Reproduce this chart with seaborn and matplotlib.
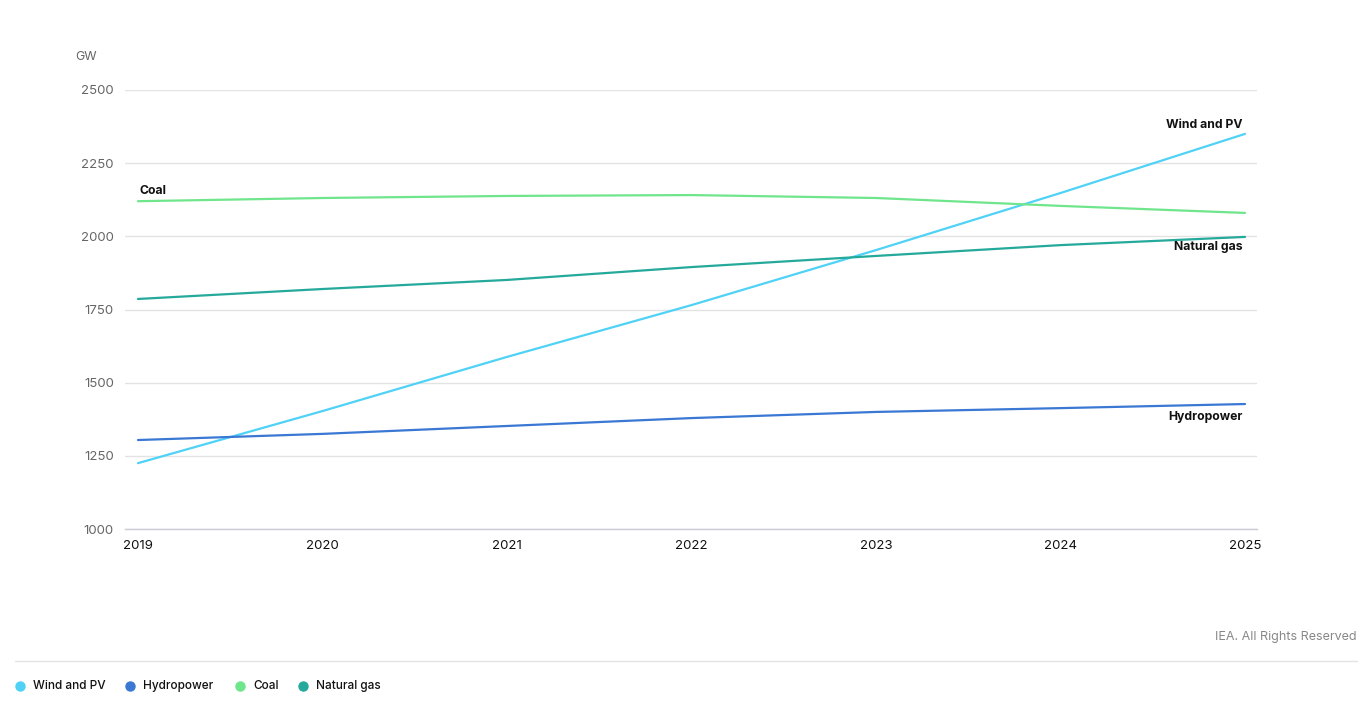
import numpy as np
import pandas as pd
import matplotlib
matplotlib.use("Agg")
import matplotlib.pyplot as plt
import seaborn as sns

years = [2019, 2020, 2021, 2022, 2023, 2024, 2025]
wind_pv = [1225, 1403, 1588, 1765, 1953, 2148, 2350]
hydropower = [1304, 1325, 1352, 1379, 1400, 1413, 1427]
coal = [2120, 2131, 2138, 2141, 2131, 2104, 2080]
natural_gas = [1786, 1820, 1851, 1895, 1933, 1970, 1998]

series_names = ["Wind and PV", "Hydropower", "Coal", "Natural gas"]
colors = ["#4fd2f6", "#3a78d4", "#6fe58c", "#25a99b"]
y_ticks = [1000, 1250, 1500, 1750, 2000, 2250, 2500]

df = pd.DataFrame({
    "year": years * 4,
    "value": wind_pv + hydropower + coal + natural_gas,
    "series": sum([[n] * len(years) for n in series_names], []),
})

sns.set_theme(style="white")
plt.rcParams["font.family"] = ["Inter", "DejaVu Sans"]

fig = plt.figure(figsize=(13.69, 7.08), dpi=100)
ax = fig.add_axes([125 / 1369, 1 - 529 / 708, (1257 - 125) / 1369, (529 - 90) / 708])

sns.lineplot(data=df, x="year", y="value", hue="series", palette=dict(zip(series_names, colors)),
             linewidth=1.6, ax=ax, legend=False)

ax.set_xlim(2019 - 13 / 184.5, 2025 + 12 / 184.5)
ax.set_ylim(1000, 2500)
ax.set_yticks(y_ticks)
ax.set_yticklabels([str(t) for t in y_ticks], color="#666666", fontsize=9.5)
ax.set_xticks(years)
ax.set_xticklabels([str(y) for y in years], color="#111111", fontsize=9.5)
ax.tick_params(axis="x", length=7, width=1, color="#111111", pad=1, direction="out")
ax.tick_params(axis="y", length=0, pad=8)
ax.grid(axis="y", color="#e3e3e3", linewidth=1)
ax.set_axisbelow(True)
for s in ["top", "right", "left"]:
    ax.spines[s].set_visible(False)
ax.spines["bottom"].set_color("#c9cbd6")
ax.spines["bottom"].set_linewidth(1)
ax.set_xlabel("")
ax.set_ylabel("")

# Unit label
fig.text(75 / 1369, 1 - 57 / 708, "GW", color="#666666", fontsize=9, va="center", ha="left")

# Series labels
lab_kw = dict(fontsize=8.8, fontweight="bold", color="#111111")
ax.annotate("Coal", xy=(years[0], coal[0]), xytext=(1, 7.5), textcoords="offset points",
            ha="left", va="center", **lab_kw)
ax.annotate("Wind and PV", xy=(years[-1], wind_pv[-1]), xytext=(-2, 6.5), textcoords="offset points",
            ha="right", va="center", **lab_kw)
ax.annotate("Natural gas", xy=(years[-1], natural_gas[-1]), xytext=(-2, -7.5), textcoords="offset points",
            ha="right", va="center", **lab_kw)
ax.annotate("Hydropower", xy=(years[-1], hydropower[-1]), xytext=(-2, -9), textcoords="offset points",
            ha="right", va="center", **lab_kw)

# Credit
fig.text(1357 / 1369, 1 - 637 / 708, "IEA. All Rights Reserved", color="#888888",
         fontsize=9, ha="right", va="center")

# Separator line
fig.add_artist(plt.Line2D([15 / 1369, 1357 / 1369], [1 - 661 / 708, 1 - 661 / 708],
                          color="#e3e3e3", linewidth=1, transform=fig.transFigure))

# Legend
leg_y = 1 - 686 / 708
leg_x = [20, 130, 240, 303]
for x, name, c in zip(leg_x, series_names, colors):
    fig.add_artist(plt.Line2D([x / 1369], [leg_y], marker="o", markersize=6.5, color=c,
                              linestyle="none", transform=fig.transFigure))
    fig.text((x + 13) / 1369, leg_y, name, fontsize=8.5, fontweight="medium", color="#111111",
             ha="left", va="center")

fig.savefig("out.png", dpi=100, facecolor="white")
